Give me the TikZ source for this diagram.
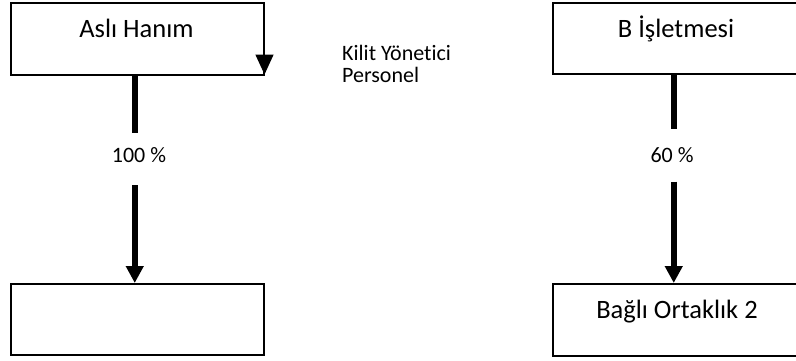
\documentclass[tikz,border=0pt]{standalone}
\usepackage{fontspec}
\setmainfont{Carlito}[Ligatures=NoCommon]
\usetikzlibrary{arrows.meta}
\tikzset{
  box/.style={draw=black, line width=1.5pt, minimum width=#1, minimum height=72pt, inner sep=0pt},
  boxtext/.style={font=\fontsize{26.5}{30}\selectfont, inner sep=0pt, anchor=base},
  pct/.style={font=\fontsize{22}{24}\selectfont, inner sep=0pt, minimum height=52pt, minimum width=40pt},
  thick arrow/.style={line width=6pt, -{Triangle[width=17pt,length=17pt]}},
  thick line/.style={line width=6pt},
}
\begin{document}
\begin{tikzpicture}[x=1pt,y=-1pt]
\useasboundingbox (0,0) rectangle (796,360);
% boxes
\node[box=253pt, anchor=north west] (asli) at (10,2) {};
\node[box=253pt, anchor=north west, minimum height=71pt] (sub1) at (10,283) {};
\node[box=248pt, anchor=north west, minimum height=71pt] (bisl) at (552,2) {};
\node[box=248pt, anchor=north west, minimum height=72pt] (sub2) at (552,283) {};
% box texts
\node[boxtext] (t1) at (136.5,37) {Aslı Hanım};
\node[boxtext] (t2) at (676,37) {B İşletmesi};
\node[boxtext] (t3) at (677,318) {Bağlı Ortaklık 2};
% key management label
\node[font=\fontsize{22}{21}\selectfont, align=left, anchor=north west, inner sep=0pt] (kmp) at (342,45) {Kilit Yönetici\\[1pt]Personel};
% percentage labels
\node[pct] (p1) at (139,155.5) {100 \%};
\node[pct] (p2) at (672,155.5) {60 \%};
% connectors
\draw[thick line] ([xshift=-2.5pt]asli.south) -- ([xshift=-2.5pt,yshift=-3.5pt]asli.south |- p1.north);
\draw[thick arrow] ([xshift=-2.5pt,yshift=-3.5pt]asli.south |- p1.south) -- ([xshift=-2.5pt]sub1.north);
\draw[thick line] ([xshift=-3pt]bisl.south) -- ([xshift=-3pt]bisl.south |- p2.north);
\draw[thick arrow] ([xshift=-3pt]bisl.south |- p2.south) -- ([xshift=-3pt]sub2.north);
% arrowhead on right edge of Asli Hanim box
\draw[line width=1.5pt, -{Triangle[width=18pt,length=20pt]}] (asli.north east) -- ([yshift=1pt]asli.south east);
\end{tikzpicture}
\end{document}
